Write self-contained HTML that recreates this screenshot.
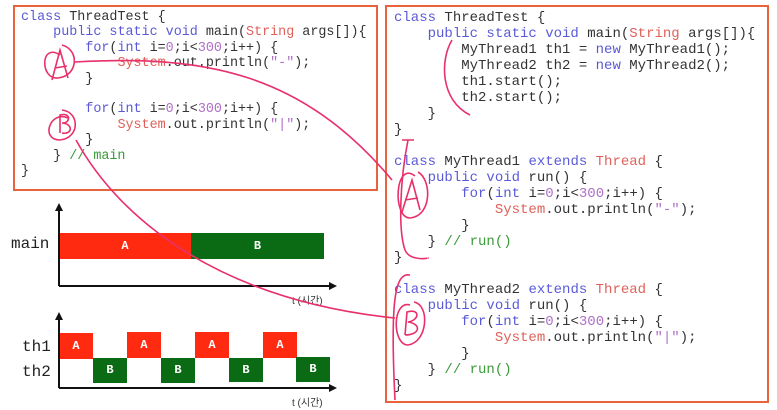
<!DOCTYPE html>
<html><head><meta charset="utf-8"><style>
body{margin:0;background:#fff;width:777px;height:410px;overflow:hidden;position:relative;font-family:"Liberation Mono",monospace}
.box{position:absolute;border:2px solid #e8623c;box-sizing:border-box}
pre{margin:0;position:absolute;font-family:"Liberation Mono",monospace;color:#333}
.k{color:#5a5ad8}.s{color:#e0605a}.n{color:#b070c8}.c{color:#3a9a3a}
.lbl{position:absolute;font-size:16px;color:#222}
.blk{position:absolute;color:#fff;font-weight:bold;font-size:12px;text-align:center}
.r{background:#ff2a10}.g{background:#0b6b14}
.t{position:absolute;font-size:10px;color:#333;font-family:"Liberation Sans","Noto Sans CJK KR",sans-serif}
</style></head><body>
<div class="box" style="left:13px;top:5px;width:365px;height:186px"></div>
<pre style="left:21px;top:10px;font-size:13.4px;line-height:15.4px"><span class="k">class</span> ThreadTest {
    <span class="k">public static void</span> main(<span class="s">String</span> args[]){
        <span class="k">for</span>(<span class="k">int</span> i=<span class="n">0</span>;i&lt;<span class="n">300</span>;i++) {
            <span class="s">System</span>.out.println(<span class="n">"-"</span>);
        }

        <span class="k">for</span>(<span class="k">int</span> i=<span class="n">0</span>;i&lt;<span class="n">300</span>;i++) {
            <span class="s">System</span>.out.println(<span class="n">"|"</span>);
        }
    } <span class="c">// main</span>
}</pre>
<div class="box" style="left:385px;top:5px;width:384px;height:398px"></div>
<pre style="left:394px;top:10px;font-size:14px;line-height:16px"><span class="k">class</span> ThreadTest {
    <span class="k">public static void</span> main(<span class="s">String</span> args[]){
        MyThread1 th1 = <span class="k">new</span> MyThread1();
        MyThread2 th2 = <span class="k">new</span> MyThread2();
        th1.start();
        th2.start();
    }
}

<span class="k">class</span> MyThread1 <span class="k">extends</span> <span class="s">Thread</span> {
    <span class="k">public void</span> run() {
        <span class="k">for</span>(<span class="k">int</span> i=<span class="n">0</span>;i&lt;<span class="n">300</span>;i++) {
            <span class="s">System</span>.out.println(<span class="n">"-"</span>);
        }
    } <span class="c">// run()</span>
}

<span class="k">class</span> MyThread2 <span class="k">extends</span> <span class="s">Thread</span> {
    <span class="k">public void</span> run() {
        <span class="k">for</span>(<span class="k">int</span> i=<span class="n">0</span>;i&lt;<span class="n">300</span>;i++) {
            <span class="s">System</span>.out.println(<span class="n">"|"</span>);
        }
    } <span class="c">// run()</span>
}</pre>

<div class="lbl" style="left:11px;top:235px">main</div>
<div class="blk r" style="left:59px;top:233px;width:132px;height:26px;line-height:26px">A</div>
<div class="blk g" style="left:191px;top:233px;width:133px;height:26px;line-height:26px">B</div>
<div class="t" style="left:292px;top:292px">t (시간)</div>
<div class="lbl" style="left:22px;top:338px">th1</div>
<div class="lbl" style="left:22px;top:363px">th2</div>
<div class="blk r" style="left:59px;top:333px;width:34px;height:26px;line-height:26px">A</div>
<div class="blk r" style="left:127px;top:332px;width:34px;height:26px;line-height:26px">A</div>
<div class="blk r" style="left:195px;top:332px;width:34px;height:26px;line-height:26px">A</div>
<div class="blk r" style="left:263px;top:332px;width:34px;height:26px;line-height:26px">A</div>
<div class="blk g" style="left:93px;top:358px;width:34px;height:25px;line-height:25px">B</div>
<div class="blk g" style="left:161px;top:358px;width:34px;height:25px;line-height:25px">B</div>
<div class="blk g" style="left:229px;top:358px;width:34px;height:24px;line-height:24px">B</div>
<div class="blk g" style="left:296px;top:357px;width:34px;height:25px;line-height:25px">B</div>
<div class="t" style="left:292px;top:394px">t (시간)</div>

<svg width="777" height="410" style="position:absolute;left:0;top:0">
<g stroke="#111" stroke-width="2" fill="#111">
<line x1="59" y1="209" x2="59" y2="286"/><line x1="59" y1="286" x2="332" y2="286"/>
<polygon points="59,203 55,211 63,211" stroke="none"/><polygon points="337,286 329,282 329,290" stroke="none"/>
<line x1="59" y1="318" x2="59" y2="388"/><line x1="59" y1="388" x2="332" y2="388"/>
<polygon points="59,312 55,320 63,320" stroke="none"/><polygon points="337,388 329,384 329,392" stroke="none"/>
</g>
<g stroke="#e8306a" stroke-width="1.6" fill="none">
<path d="M60,55 C40,42 40,80 58,78 C78,76 80,50 62,45"/>
<path d="M52,80 L60,50 L68,78 M55,68 L67,66"/>
<path d="M75,62 C200,55 300,70 392,180"/>
<path d="M68,118 C50,110 40,140 60,140 C80,138 80,112 62,110"/>
<path d="M60,133 L60,115 C72,112 70,124 62,123 C74,124 72,135 62,133"/>
<path d="M76,140 C120,220 220,300 395,318"/>
<path d="M452,40 C440,60 440,100 470,115"/>
<path d="M402,140 L414,140 M408,140 C400,180 398,230 405,250 C410,262 430,258 428,258"/>
<path d="M415,176 C395,160 392,218 410,218 C432,216 432,180 418,172"/>
<path d="M402,212 L412,180 L420,210 M405,200 L418,198"/>
<path d="M410,275 C395,272 390,300 395,400"/>
<path d="M410,305 C392,300 392,345 408,345 C428,342 430,305 414,302"/>
<path d="M405,335 L407,312 C420,308 420,320 408,322 C422,324 420,335 405,335"/>
</g>
</svg>
</body></html>
